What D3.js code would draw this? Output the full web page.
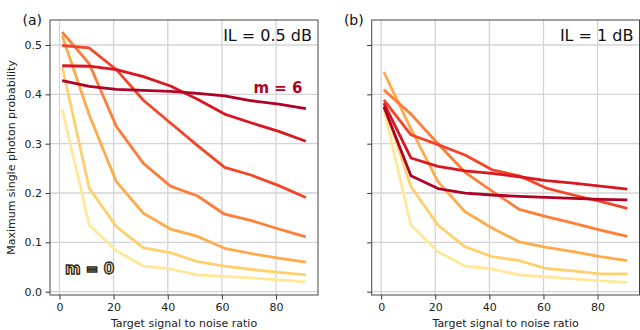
<!DOCTYPE html>
<html><head><meta charset="utf-8">
<script src="https://cdn.jsdelivr.net/npm/d3@7"></script>
<style>body{margin:0;background:#fff}svg{display:block;font-family:"DejaVu Sans",sans-serif}</style>
</head><body>
<svg id="c" width="640" height="330"></svg>
<script>
const snr = [1, 11, 21, 31, 41, 51, 61, 71, 81, 91];
const xTicks = [0, 20, 40, 60, 80];
const yTicks = [0.0, 0.1, 0.2, 0.3, 0.4, 0.5];
const mLabels = ["m = 0", "m = 1", "m = 2", "m = 3", "m = 4", "m = 5", "m = 6"];
// Panel (a): IL = 0.5 dB
const a_m0 = [0.370, 0.135, 0.083, 0.052, 0.046, 0.034, 0.031, 0.028, 0.024, 0.020];
const a_m1 = [0.456, 0.210, 0.132, 0.089, 0.079, 0.061, 0.052, 0.045, 0.039, 0.034];
const a_m2 = [0.519, 0.358, 0.223, 0.159, 0.127, 0.112, 0.088, 0.077, 0.068, 0.060];
const a_m3 = [0.526, 0.462, 0.335, 0.260, 0.214, 0.194, 0.157, 0.144, 0.127, 0.111];
const a_m4 = [0.499, 0.494, 0.450, 0.388, 0.342, 0.296, 0.252, 0.236, 0.215, 0.191];
const a_m5 = [0.458, 0.457, 0.450, 0.436, 0.417, 0.390, 0.360, 0.342, 0.325, 0.305];
const a_m6 = [0.428, 0.416, 0.410, 0.408, 0.406, 0.402, 0.397, 0.387, 0.380, 0.371];
// Panel (b): IL = 1 dB
const b_m0 = [0.370, 0.135, 0.081, 0.052, 0.046, 0.034, 0.030, 0.026, 0.022, 0.019];
const b_m1 = [0.380, 0.213, 0.135, 0.091, 0.071, 0.063, 0.047, 0.042, 0.036, 0.036];
const b_m2 = [0.445, 0.330, 0.223, 0.162, 0.129, 0.101, 0.090, 0.081, 0.071, 0.063];
const b_m3 = [0.409, 0.360, 0.300, 0.242, 0.204, 0.167, 0.152, 0.139, 0.125, 0.112];
const b_m4 = [0.389, 0.318, 0.298, 0.277, 0.247, 0.235, 0.210, 0.196, 0.183, 0.169];
const b_m5 = [0.382, 0.271, 0.254, 0.245, 0.240, 0.233, 0.225, 0.220, 0.214, 0.208];
const b_m6 = [0.375, 0.235, 0.209, 0.200, 0.196, 0.193, 0.191, 0.189, 0.187, 0.186];

const colorT = [0.15, 0.275, 0.4, 0.525, 0.65, 0.775, 0.9];
const colors = colorT.map(t => d3.interpolateYlOrRd(t));

const svg = d3.select("#c");
const y = d3.scaleLinear().domain([-0.0067, 0.5507]).range([295, 20]);

const panels = [
  {left: 50, right: 318, series: [a_m0, a_m1, a_m2, a_m3, a_m4, a_m5, a_m6], tag: "(a)", il: "IL = 0.5 dB", yLabels: true},
  {left: 371.7, right: 639.5, series: [b_m0, b_m1, b_m2, b_m3, b_m4, b_m5, b_m6], tag: "(b)", il: "IL = 1 dB", yLabels: false}
];

panels.forEach((p, pi) => {
  const x = d3.scaleLinear().domain([-3.5, 95.5]).range([p.left, p.right]);
  const g = svg.append("g");
  // grid
  g.selectAll(".gx").data(xTicks).join("line")
    .attr("x1", d => x(d)).attr("x2", d => x(d)).attr("y1", 20).attr("y2", 295)
    .attr("stroke", "#d4d4d4").attr("stroke-width", 1.3);
  g.selectAll(".gy").data(yTicks).join("line")
    .attr("y1", d => y(d)).attr("y2", d => y(d)).attr("x1", p.left).attr("x2", p.right)
    .attr("stroke", "#d4d4d4").attr("stroke-width", 1.3);
  // lines
  const line = d3.line().x((d, i) => x(snr[i])).y(d => y(d));
  p.series.forEach((s, k) => {
    g.append("path").datum(s).attr("d", line)
      .attr("fill", "none").attr("stroke", colors[k]).attr("stroke-width", 2.8)
      .attr("stroke-linejoin", "round");
  });
  // axes
  const xa = g.append("g").attr("transform", "translate(0,295)")
    .call(d3.axisBottom(x).tickValues(xTicks).tickSize(4.5).tickPadding(3.5).tickFormat(d3.format("d")));
  const ya = g.append("g").attr("transform", `translate(${p.left},0)`)
    .call(d3.axisLeft(y).tickValues(yTicks).tickSize(4.5).tickPadding(3.5)
      .tickFormat(p.yLabels ? d3.format(".1f") : () => ""));
  [xa, ya].forEach(a => {
    a.select(".domain").remove();
    a.selectAll("line").attr("stroke", "#333").attr("stroke-width", 1);
    a.selectAll("text").attr("font-size", 11).attr("fill", "#222").attr("font-family", "DejaVu Sans");
  });
  // frame
  g.append("rect").attr("x", p.left).attr("y", 20).attr("width", p.right - p.left).attr("height", 275)
    .attr("fill", "none").attr("stroke", "#444").attr("stroke-width", 1);
  // texts
  g.append("text").attr("x", p.left - 8).attr("y", 25).attr("text-anchor", "end")
    .attr("font-size", 14).attr("fill", "#111").text(p.tag);
  g.append("text").attr("x", p.right - 6).attr("y", 41).attr("text-anchor", "end")
    .attr("font-size", 16).attr("fill", "#111").text(p.il);
  g.append("text").attr("x", (p.left + p.right) / 2).attr("y", 327).attr("text-anchor", "middle")
    .attr("font-size", 11).attr("fill", "#222").text("Target signal to noise ratio");
  if (pi === 0) {
    g.append("text").attr("x", 302.5).attr("y", 92.5).attr("text-anchor", "end")
      .attr("font-size", 15).attr("font-weight", "bold").attr("fill", colors[6]).text(mLabels[6]);
    g.append("text").attr("x", 65).attr("y", 274).attr("text-anchor", "start")
      .attr("font-size", 15).attr("font-weight", "bold").attr("fill", colors[0])
      .attr("stroke", "#2a2a2a").attr("stroke-width", 1.3).text(mLabels[0]);
    g.append("text").attr("transform", "translate(15,157.5) rotate(-90)").attr("text-anchor", "middle")
      .attr("font-size", 11).attr("fill", "#222").text("Maximum single photon probability");
  }
});
</script>
</body></html>
